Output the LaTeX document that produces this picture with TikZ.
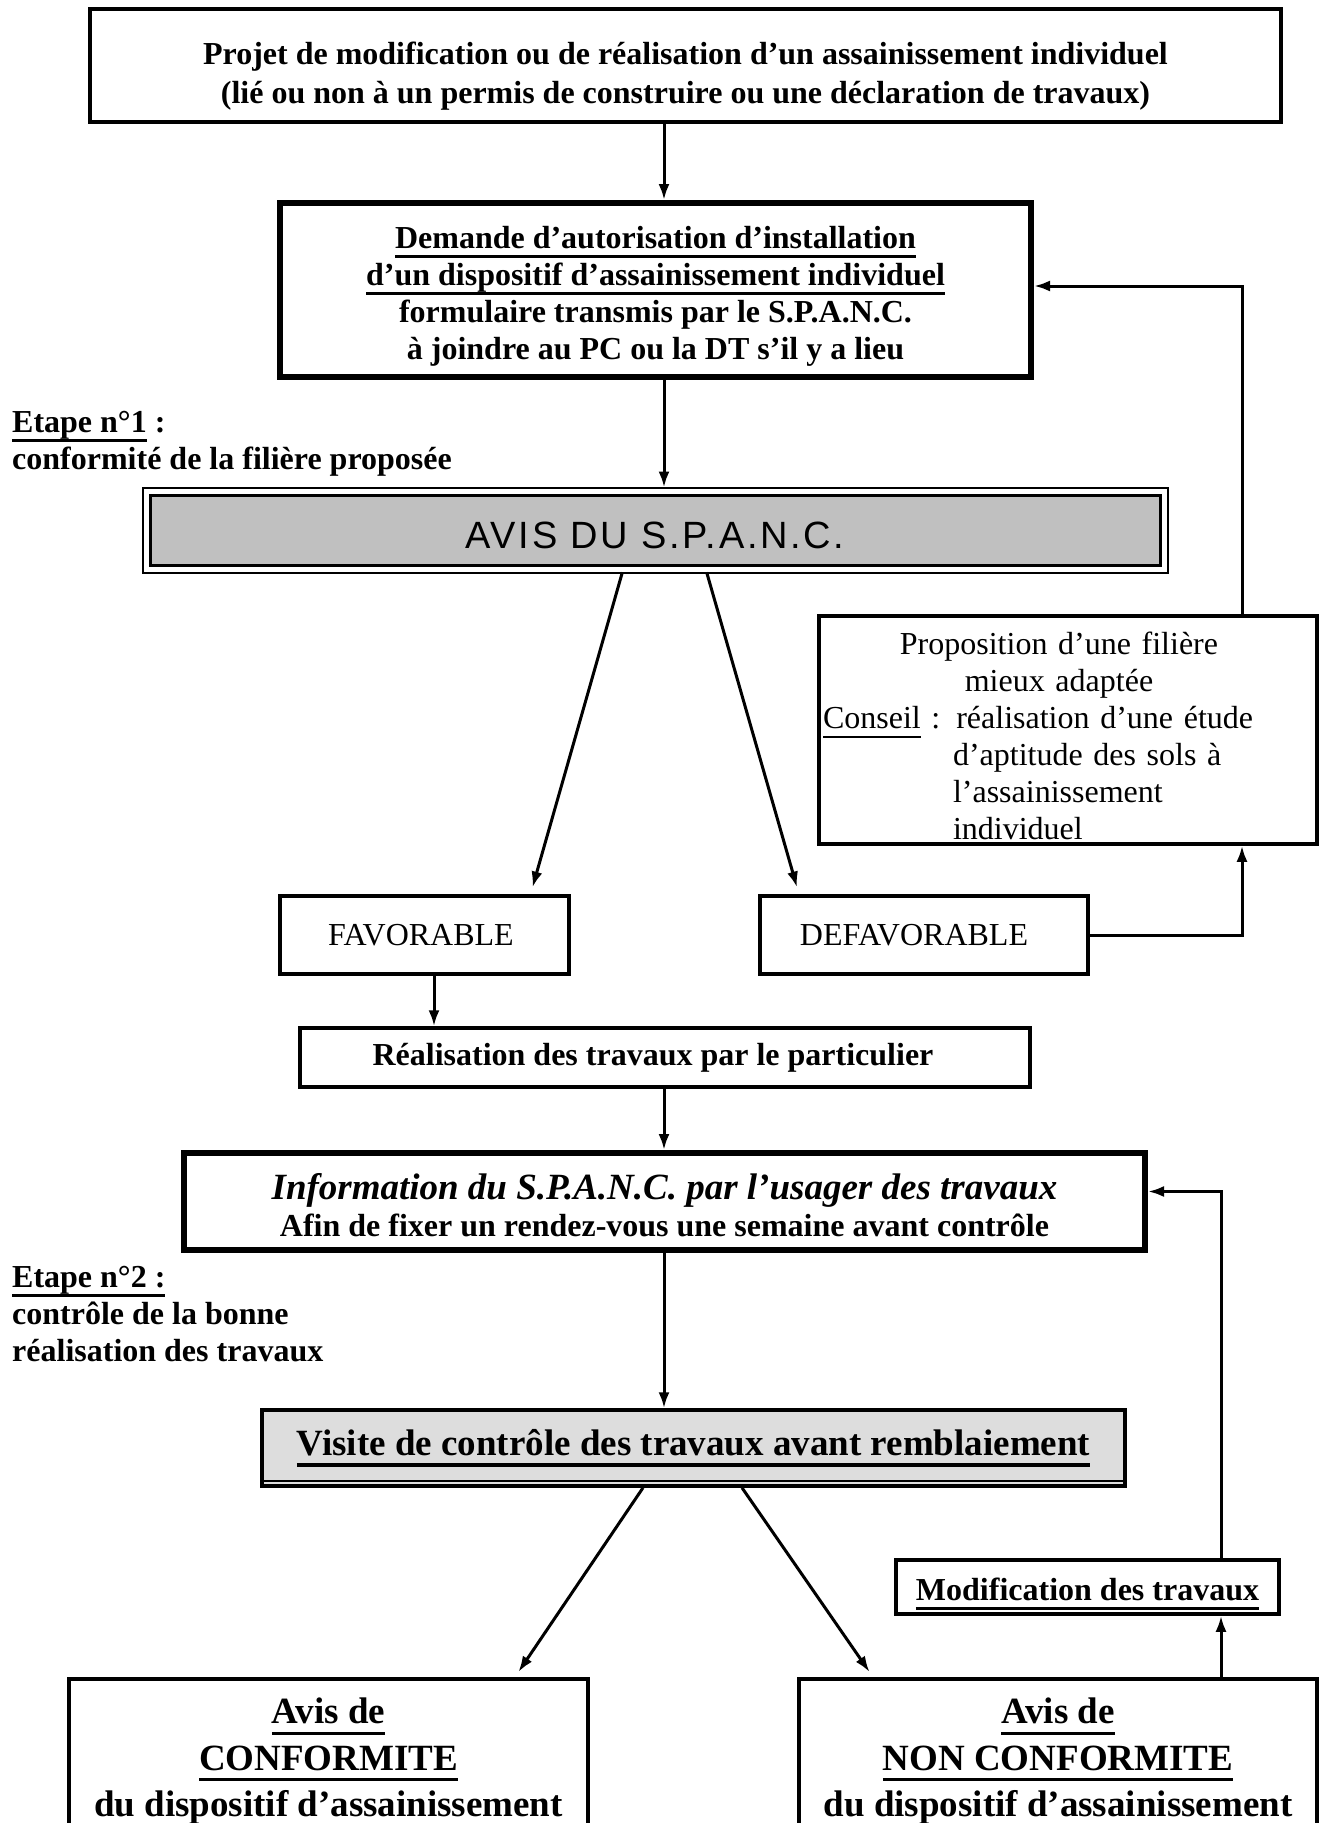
\documentclass[tikz,border=0pt]{standalone}
\usepackage{fontspec}
\setmainfont{Liberation Serif}
\newfontfamily\avisfont[LetterSpace=7]{Liberation Sans}
\usepackage{tikz}
\usetikzlibrary{arrows.meta}

\definecolor{avisgray}{HTML}{C0C0C0}
\definecolor{visitegray}{HTML}{DDDDDD}

\newcommand{\txtbold}{\fontsize{32}{37}\selectfont\bfseries}
\newcommand{\txtplain}{\fontsize{32}{37}\selectfont}
\newcommand{\txtbig}{\fontsize{37}{46.5}\selectfont\bfseries}
\newcommand{\txtital}{\fontsize{37}{37}\selectfont\itshape}
\newcommand{\txtavis}{\fontsize{38}{40}\selectfont\avisfont}
% underline drawn a bit below the baseline
\newsavebox{\ulbox}
\newcommand{\undl}[2][0.09em]{\sbox{\ulbox}{#2}\leavevmode\rlap{\rule[-0.3em]{\wd\ulbox}{#1}}\usebox{\ulbox}}

\begin{document}
\begin{tikzpicture}[x=1pt, y=-1pt, >={Latex[length=16pt,width=11pt]},
    box/.style={draw, line width=3.5pt, inner sep=4pt, align=center},
    thickbox/.style={box, line width=6pt},
    arrow/.style={->, line width=3pt}]
    \useasboundingbox (0,0) rectangle (1322,1823);
    \clip (0,0) rectangle (1322,1823);

    % --- Guide lines for the connectors ---
    \coordinate (axis) at (664,0);
    \coordinate (loopa) at (1242,0);
    \coordinate (loopb) at (1221,0);

    % --- Etape 1: demande et avis ---
    \node[box, minimum width=1191pt, minimum height=113pt, font=\txtbold] (projet) at (685.5,65.5)
        {\rule{0pt}{44pt}Projet de modification ou de réalisation d’un assainissement individuel\\[2.5pt]
         (lié ou non à un permis de construire ou une déclaration de travaux)};

    \node[thickbox, minimum width=751pt, minimum height=174pt, font=\txtbold] (demande) at (655.5,290)
        {\rule{0pt}{34pt}\undl{Demande d’autorisation d’installation}\\
         \undl{d’un dispositif d’assainissement individuel}\\
         formulaire transmis par le S.P.A.N.C.\\
         à joindre au PC ou la DT s’il y a lieu};

    \node[font=\txtbold, align=left, anchor=west, inner sep=0pt] (etape1) at (12,444)
        {\undl{Etape n°1} :\\ conformité de la filière proposée};

    \node[fill=avisgray, draw, line width=3pt, minimum width=1010pt, minimum height=70pt, font=\txtavis] (avis) at (655,530)
        {\rule{0pt}{38pt}AVIS DU S.P.A.N.C.};
    \draw[line width=2pt] ([shift={(-6pt,6pt)}]avis.north west) rectangle ([shift={(6pt,-6pt)}]avis.south east);

    \node[box, font=\txtplain, minimum width=289pt, minimum height=78pt] (favorable) at (424.5,935)
        {FAVORABLE\hspace*{7pt}};
    \node[box, font=\txtplain, minimum width=328pt, minimum height=78pt] (defavorable) at (924,935)
        {DEFAVORABLE\hspace*{20pt}};

    \node[box, font=\txtplain, align=left, text width=490pt, minimum height=228pt] (proposition) at (1068,730)
        {\rule{0pt}{34pt}\makebox[472pt][c]{Proposition d’une filière}\\
         \makebox[472pt][c]{mieux adaptée}\\
         \undl[0.05em]{Conseil} : réalisation d’une étude\\
         \hspace*{130pt}d’aptitude des sols à\\
         \hspace*{130pt}l’assainissement\\
         \hspace*{130pt}individuel};

    % --- Etape 2: travaux et controle ---
    \node[box, font=\txtbold, minimum width=730pt, minimum height=59pt] (realisation) at (665,1057.5)
        {Réalisation des travaux par le particulier\hspace*{24pt}};

    \node[thickbox, font=\txtbold, minimum width=961pt, minimum height=97pt] (information) at (664.5,1201.5)
        {\rule{0pt}{34pt}{\txtital Information du S.P.A.N.C. par l’usager des travaux}\\
         Afin de fixer un rendez-vous une semaine avant contrôle};

    \node[font=\txtbold, align=left, anchor=west, inner sep=0pt] (etape2) at (12,1314)
        {\undl{Etape n°2 :}\\ contrôle de la bonne\\ réalisation des travaux};

    \node[box, fill=visitegray, font=\txtbig, minimum width=863pt, minimum height=76pt] (visite) at (693.5,1448)
        {\undl{Visite de contrôle des travaux avant remblaiement}};
    \draw[line width=1.5pt] ([yshift=7pt]visite.south west) -- ([yshift=7pt]visite.south east);

    \node[box, font=\txtbold, minimum width=383pt, minimum height=54pt] (modification) at (1087.5,1587)
        {\rule{0pt}{36pt}\undl{Modification des travaux}};

    \node[box, minimum width=519pt, minimum height=300pt, anchor=north] (conforme) at (328.5,1677) {};
    \node[font=\txtbig, align=center, anchor=north, inner sep=0pt] (conformetext) at ([yshift=-21pt]conforme.north)
        {\undl{Avis de}\\ \undl{CONFORMITE}\\ \undl{du dispositif d’assainissement}};

    \node[box, minimum width=518pt, minimum height=300pt, anchor=north] (nonconforme) at (1058,1677) {};
    \node[font=\txtbig, align=center, anchor=north, inner sep=0pt] (nonconformetext) at ([yshift=-21pt]nonconforme.north)
        {\undl{Avis de}\\ \undl{NON CONFORMITE}\\ \undl{du dispositif d’assainissement}};

    % --- Connectors ---
    \draw[arrow] (projet.south -| axis) -- (demande.north -| axis);
    \draw[arrow, shorten >=6pt] (demande.south -| axis) -- (avis.north -| axis);
    \draw[arrow, shorten <=6pt, shorten >=7pt] ([xshift=-31pt]avis.south) -- ([xshift=106pt]favorable.north);
    \draw[arrow, shorten <=6pt, shorten >=7pt] ([xshift=50pt]avis.south) -- ([xshift=-125pt]defavorable.north);
    \draw[arrow] (defavorable.east) -| (proposition.south -| loopa);
    \draw[arrow] (proposition.north -| loopa) |- ([yshift=4pt]demande.east);
    \draw[arrow] ([xshift=9.5pt]favorable.south) -- ([xshift=9.5pt]favorable.south |- realisation.north);
    \draw[arrow] (realisation.south -| axis) -- (information.north -| axis);
    \draw[arrow] (information.south -| axis) -- (visite.north -| axis);
    \draw[arrow, shorten >=6pt] ([xshift=-50.5pt]visite.south) -- ([xshift=186.5pt]conforme.north);
    \draw[arrow, shorten >=6pt] ([xshift=48.5pt]visite.south) -- ([xshift=-185pt]nonconforme.north);
    \draw[arrow] (nonconforme.north -| loopb) -- (modification.south -| loopb);
    \draw[arrow] (modification.north -| loopb) |- ([yshift=10pt]information.east);
\end{tikzpicture}
\end{document}
